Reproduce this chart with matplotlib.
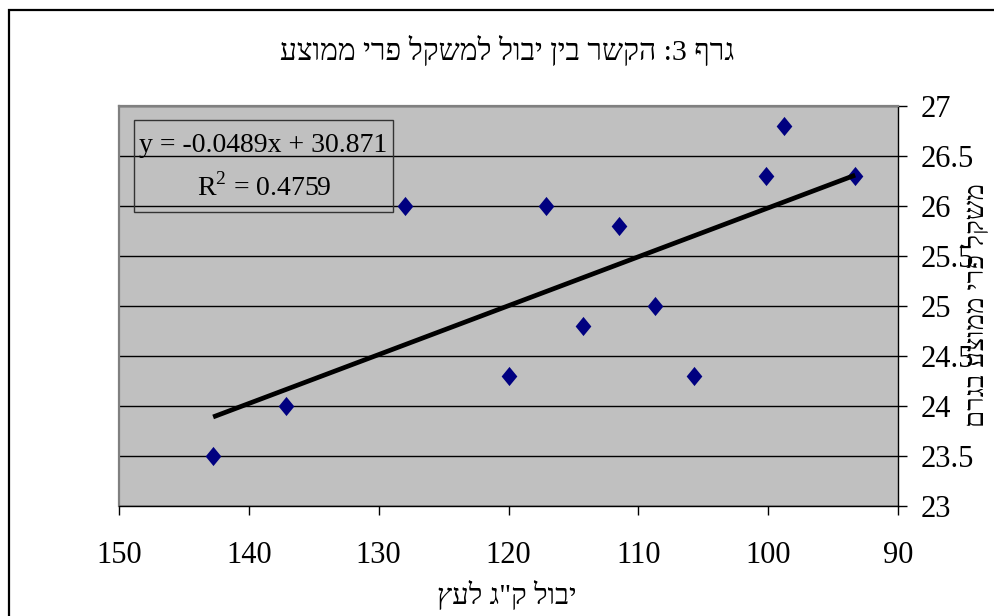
import numpy as np
import matplotlib
matplotlib.use("Agg")
import matplotlib.pyplot as plt
from matplotlib.patches import Rectangle

plt.rcParams['font.family'] = ['Liberation Serif', 'DejaVu Serif', 'DejaVu Sans']
plt.rcParams['mathtext.fontset'] = 'custom'
plt.rcParams['mathtext.rm'] = 'Liberation Serif'

# data
yevul = [142.75, 137.1, 128.0, 120.0, 117.1, 114.3, 111.5, 108.7, 105.7, 100.2, 98.8, 93.3]
mishkal = [23.5, 24.0, 26.0, 24.3, 26.0, 24.8, 25.8, 25.0, 24.3, 26.3, 26.8, 26.3]
shipua = -0.0489
hituch = 30.871
r2 = 0.4759

x_ticks = [150, 140, 130, 120, 110, 100, 90]
y_ticks = [23, 23.5, 24, 24.5, 25, 25.5, 26, 26.5, 27]

title = "גרף 3: הקשר בין יבול למשקל פרי ממוצע"
xlabel = 'יבול ק"ג לעץ'
ylabel = "משקל פרי ממוצע בגרם"


def rtl(s):
    # matplotlib has no bidi support: hand it the visual order
    # (only single digits here, so a plain reversal is enough)
    return s[::-1]


# excel style diamond, a bit taller than wide
diamond = [(0, 1), (0.82, 0), (0, -1), (-0.82, 0), (0, 1)]

fig = plt.figure(figsize=(9.95, 6.16), dpi=100)
fig.patch.set_facecolor('white')

# chart frame (cut by the picture edge on the right and bottom)
fig.patches.append(Rectangle((9 / 995, -0.1), 1.2, 1 - 10 / 616 + 0.1,
                             transform=fig.transFigure, fill=False,
                             edgecolor='black', linewidth=1.6))

ax = fig.add_axes([119 / 995, 1 - 506 / 616, 779 / 995, 400 / 616])
ax.set_facecolor('#C0C0C0')

ax.set_xlim(150, 90)
ax.set_ylim(23, 27)
ax.set_xticks(x_ticks)
ax.set_yticks(y_ticks)
ax.set_yticklabels([f"{v:g}" for v in y_ticks])

ax.yaxis.tick_right()
ax.grid(axis='y', color='black', linewidth=1)
ax.set_axisbelow(True)

ax.tick_params(axis='x', direction='out', length=6.5, width=1, pad=19, labelsize=22)
ax.tick_params(axis='y', direction='out', length=6.5, width=1, pad=10, labelsize=22)

for side in ['top', 'left']:
    ax.spines[side].set_color('#808080')
    ax.spines[side].set_linewidth(1.6)
for side in ['bottom', 'right']:
    ax.spines[side].set_color('black')
    ax.spines[side].set_linewidth(1)

ax.scatter(yevul, mishkal, marker=diamond, s=190, color='#000080', zorder=3, linewidths=0)

xs = np.array([min(yevul), max(yevul)])
ax.plot(xs, shipua * xs + hituch, color='black', linewidth=3.4, zorder=4,
        solid_capstyle='butt')

# trendline label box
ax.add_patch(Rectangle((15 / 779, 1 - 106 / 400), 259 / 779, 92 / 400,
                       transform=ax.transAxes, fill=False, edgecolor='#333333',
                       linewidth=1, zorder=5))
ax.text(144 / 779, 0.9, f"y = {shipua}x + {hituch}",
        transform=ax.transAxes, ha='center', va='center', fontsize=20, zorder=6)
ax.text(145 / 779, 0.7975, f"R$^2$ = {r2}",
        transform=ax.transAxes, ha='center', va='center', fontsize=20, zorder=6)

fig.text(507 / 995, 1 - 50 / 616, rtl(title), ha='center', va='center', fontsize=21.5)
fig.text(507 / 995, 1 - 595 / 616, rtl(xlabel), ha='center', va='center', fontsize=21)
fig.text(976 / 995, 1 - 305 / 616, rtl(ylabel), ha='center', va='center',
         rotation=90, fontsize=20)

fig.savefig("out.png", dpi=100)
